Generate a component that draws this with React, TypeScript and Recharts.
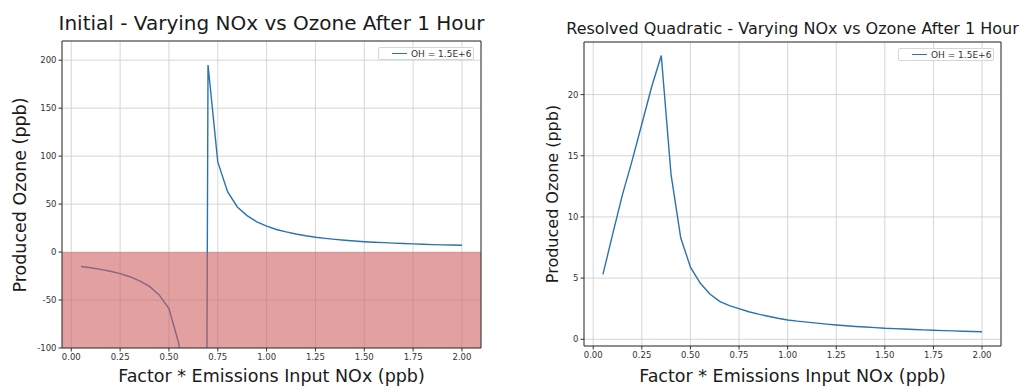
import { CartesianGrid, Line, LineChart, ReferenceArea, XAxis, YAxis } from 'recharts';

const FONT = '"DejaVu Sans", "Liberation Sans", sans-serif';
const BLUE = '#2a73b0';
const TICK = { fill: '#333', fontSize: 8.5, fontFamily: FONT };

const NOX_FACTOR = [
  0.05, 0.1, 0.15, 0.2, 0.25, 0.3, 0.35, 0.4, 0.45, 0.5,
  0.55, 0.6, 0.65, 0.7, 0.75, 0.8, 0.85, 0.9, 0.95, 1.0,
  1.05, 1.1, 1.15, 1.2, 1.25, 1.3, 1.35, 1.4, 1.45, 1.5,
  1.55, 1.6, 1.65, 1.7, 1.75, 1.8, 1.85, 1.9, 1.95, 2.0,
];

const INITIAL_OZONE = [
  -15, -16.4, -18, -20, -22.5, -25.7, -30, -35.8, -44.6, -59,
  -95, -180, -2500, 195, 94, 63, 47, 38, 31.5, 27,
  23.5, 21, 18.8, 17, 15.5, 14.3, 13.2, 12.3, 11.5, 10.8,
  10.2, 9.8, 9.3, 8.9, 8.5, 8.1, 7.8, 7.5, 7.3, 7.1,
];

const RESOLVED_OZONE = [
  5.3, 8.6, 11.8, 14.6, 17.6, 20.6, 23.2, 13.5, 8.3, 5.9,
  4.6, 3.7, 3.1, 2.75, 2.5, 2.25, 2.05, 1.88, 1.72, 1.58,
  1.48, 1.4, 1.32, 1.24, 1.17, 1.11, 1.05, 1.0, 0.95, 0.9,
  0.87, 0.84, 0.8, 0.77, 0.74, 0.71, 0.69, 0.66, 0.64, 0.62,
];

const X_TICKS = [0, 0.25, 0.5, 0.75, 1.0, 1.25, 1.5, 1.75, 2.0];
const X_DOMAIN = [-0.0475, 2.0975];
const INITIAL_Y_TICKS = [-100, -50, 0, 50, 100, 150, 200];
const INITIAL_Y_DOMAIN = [-100, 220];
const RESOLVED_Y_TICKS = [0, 5, 10, 15, 20];
const RESOLVED_Y_DOMAIN = [-0.55, 24.3];

const LEGEND_LABEL = 'OH = 1.5E+6';
const X_LABEL = 'Factor * Emissions Input NOx (ppb)';
const Y_LABEL = 'Produced Ozone (ppb)';

const initialData = NOX_FACTOR.map((x, i) => ({ x, ozone: INITIAL_OZONE[i] }));
const resolvedData = NOX_FACTOR.map((x, i) => ({ x, ozone: RESOLVED_OZONE[i] }));

function Legend({ left, top }: { left: number; top: number }) {
  return (
    <div
      style={{
        position: 'absolute',
        left,
        top,
        width: 96,
        height: 13,
        boxSizing: 'border-box',
        border: '1px solid #d6d6d6',
        borderRadius: 2,
        background: 'rgba(255,255,255,0.85)',
        display: 'flex',
        alignItems: 'center',
        fontFamily: FONT,
        fontSize: 9,
        color: '#333',
        whiteSpace: 'nowrap',
      }}
    >
      <span style={{ display: 'inline-block', width: 15, height: 0, borderTop: `1.5px solid ${BLUE}`, marginLeft: 13, marginRight: 4 }} />
      {LEGEND_LABEL}
    </div>
  );
}

function Panel({
  left,
  width,
  plotLeft,
  plotTop,
  plotRight,
  plotBottom,
  title,
  titleSize,
  titleTop,
  data,
  yDomain,
  yTicks,
  yLabelSize,
  yLabelX,
  shade,
}: {
  left: number;
  width: number;
  plotLeft: number;
  plotTop: number;
  plotRight: number;
  plotBottom: number;
  title: string;
  titleSize: number;
  titleTop: number;
  data: { x: number; ozone: number }[];
  yDomain: number[];
  yTicks: number[];
  yLabelSize: number;
  yLabelX: number;
  shade: boolean;
}) {
  const height = 388;
  const centerX = (plotLeft + plotRight) / 2;
  const centerY = (plotTop + plotBottom) / 2;
  return (
    <div style={{ position: 'absolute', left, top: 0, width, height }}>
      <LineChart
        width={width}
        height={height}
        data={data}
        margin={{ top: plotTop, right: width - plotRight, bottom: 0, left: 0 }}
      >
        <CartesianGrid stroke="#cccccc" strokeWidth={0.8} />
        <XAxis
          dataKey="x"
          type="number"
          domain={X_DOMAIN}
          ticks={X_TICKS}
          allowDataOverflow
          height={height - plotBottom}
          tickFormatter={(v) => Number(v).toFixed(2)}
          tick={TICK}
          tickSize={3.5}
          tickMargin={2}
          axisLine={false}
          tickLine={{ stroke: '#333' }}
        />
        <YAxis
          type="number"
          domain={yDomain}
          ticks={yTicks}
          allowDataOverflow
          width={plotLeft}
          tick={TICK}
          tickSize={3.5}
          tickMargin={2}
          axisLine={false}
          tickLine={{ stroke: '#333' }}
        />
        <Line
          type="linear"
          dataKey="ozone"
          stroke={BLUE}
          strokeWidth={1.4}
          dot={false}
          isAnimationActive={false}
        />
        {shade && (
          <ReferenceArea
            x1={X_DOMAIN[0]}
            x2={X_DOMAIN[1]}
            y1={-100}
            y2={0}
            fill="#cd5c5c"
            fillOpacity={0.58}
            stroke="none"
            zIndex={450}
          />
        )}
        <ReferenceArea
          x1={X_DOMAIN[0]}
          x2={X_DOMAIN[1]}
          y1={yDomain[0]}
          y2={yDomain[1]}
          fill="none"
          stroke="#333"
          strokeWidth={1}
          zIndex={500}
        />
      </LineChart>
      <div
        style={{
          position: 'absolute',
          left: centerX - 300,
          width: 600,
          top: titleTop,
          textAlign: 'center',
          fontFamily: FONT,
          fontSize: titleSize,
          color: '#1a1a1a',
          whiteSpace: 'nowrap',
        }}
      >
        {title}
      </div>
      <div
        style={{
          position: 'absolute',
          left: centerX - 300,
          width: 600,
          top: 366,
          textAlign: 'center',
          fontFamily: FONT,
          fontSize: 17.5,
          color: '#1a1a1a',
          whiteSpace: 'nowrap',
        }}
      >
        {X_LABEL}
      </div>
      <div
        style={{
          position: 'absolute',
          left: yLabelX - 150,
          top: centerY - 12,
          width: 300,
          height: 24,
          lineHeight: '24px',
          textAlign: 'center',
          transform: 'rotate(-90deg)',
          fontFamily: FONT,
          fontSize: yLabelSize,
          color: '#1a1a1a',
          whiteSpace: 'nowrap',
        }}
      >
        {Y_LABEL}
      </div>
      <Legend left={plotRight - 103} top={plotTop + 6} />
    </div>
  );
}

export default function App() {
  return (
    <div style={{ position: 'absolute', left: 0, top: 0, width: 1019, height: 388, background: '#fff' }}>
      <Panel
        left={0}
        width={500}
        plotLeft={62}
        plotTop={41}
        plotRight={481}
        plotBottom={348}
        title="Initial - Varying NOx vs Ozone After 1 Hour"
        titleSize={20}
        titleTop={11}
        data={initialData}
        yDomain={INITIAL_Y_DOMAIN}
        yTicks={INITIAL_Y_TICKS}
        yLabelSize={17.5}
        yLabelX={20}
        shade
      />
      <Panel
        left={520}
        width={499}
        plotLeft={64}
        plotTop={42}
        plotRight={481}
        plotBottom={346}
        title="Resolved Quadratic - Varying NOx vs Ozone After 1 Hour"
        titleSize={16}
        titleTop={19}
        data={resolvedData}
        yDomain={RESOLVED_Y_DOMAIN}
        yTicks={RESOLVED_Y_TICKS}
        yLabelSize={16}
        yLabelX={33}
        shade={false}
      />
    </div>
  );
}
